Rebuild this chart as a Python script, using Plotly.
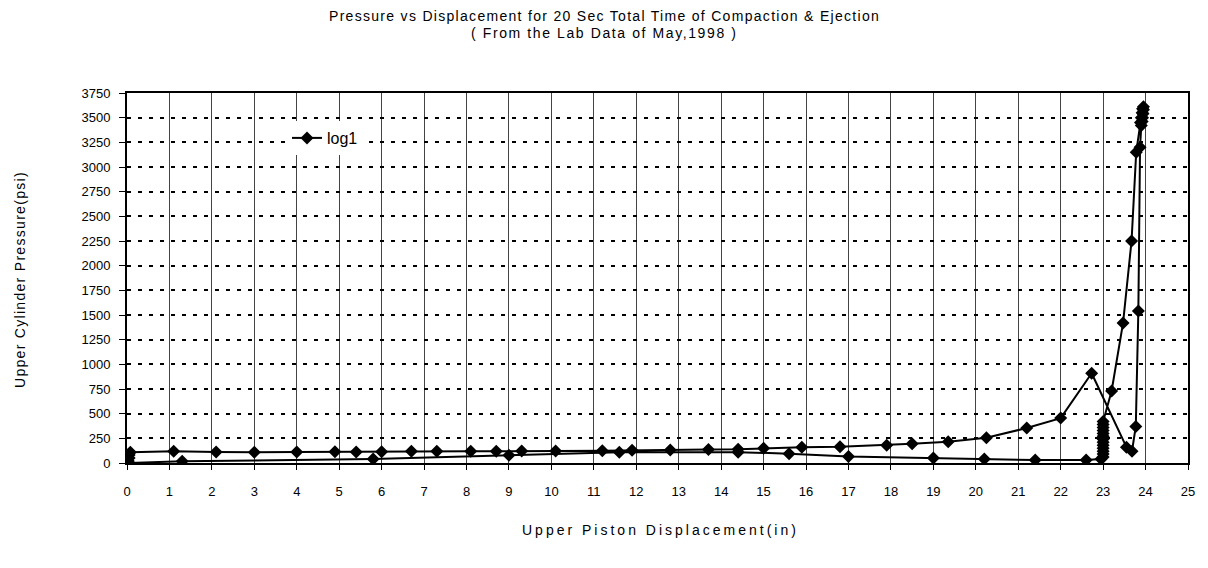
import plotly.graph_objects as go

# Displacement (in) and pressure (psi), in recorded order
displacement = [0.03, 0.03, 0.05, 0.05, 0.08,
                1.1, 2.1, 3.0, 4.0, 4.9, 5.4, 6.0, 6.7, 7.3, 8.1, 8.7, 9.3, 10.1, 11.2, 11.9,
                12.8, 13.7, 14.4, 15.0, 15.9, 16.8, 17.9, 18.5, 19.35, 20.25, 21.2, 22.0, 22.73,
                23.55, 23.68, 23.77, 23.83, 23.87, 23.9, 23.92, 23.93, 23.94, 23.95, 23.95,
                23.93, 23.92, 23.9, 23.88, 23.78, 23.67, 23.47, 23.2,
                23.0, 23.0, 23.0, 23.0, 23.0, 23.0, 23.0, 23.0, 23.0, 23.0, 23.0, 23.0, 23.0,
                22.95, 22.6, 21.4, 20.2, 19.0, 17.0, 15.6, 14.4, 11.6, 9.0, 5.8, 1.3, 0.05]
pressure = [0, 20, 50, 80, 110,
            118, 112, 108, 112, 115, 112, 115, 118, 120, 120, 118, 122, 122, 125, 130,
            132, 138, 140, 150, 160, 165, 180, 195, 215, 255, 355, 455, 910,
            160, 120, 370, 1540, 3200, 3420, 3460, 3500, 3540, 3580, 3610,
            3590, 3550, 3500, 3450, 3150, 2250, 1420, 730,
            420, 390, 360, 330, 300, 270, 240, 210, 180, 150, 120, 90, 60,
            40, 30, 30, 40, 50, 65, 95, 110, 108, 78, 40, 18, 0]

x_ticks = list(range(0, 26))
y_ticks = list(range(0, 3751, 250))

title_line1 = "Pressure vs Displacement for 20 Sec Total Time of Compaction & Ejection"
title_line2 = "( From the Lab Data of May,1998 )"
x_title = "Upper Piston Displacement(in)"
y_title = "Upper Cylinder Pressure(psi)"

FONT = "Liberation Sans, Arial, sans-serif"

# page has an 8px body margin; plot area in page px: x 127..1188, y 93..463
W, H = 1208, 568
L, R, T, B = 119, 28, 85, 113
PW, PH = W - L - R, H - T - B


def px_x(page_x):
    return (page_x - 8 - L) / PW


def px_y(page_y):
    return 1 - (page_y - 8 - T) / PH


def spaced(text, sp):
    return f'<span style="letter-spacing:{sp}px">{text}</span>'


fig = go.Figure()
fig.add_trace(go.Scatter(
    x=displacement, y=pressure, mode="lines+markers", name="log1",
    line=dict(color="black", width=2),
    marker=dict(symbol="diamond", size=10, color="black"),
))

fig.update_layout(
    width=W, height=H,
    margin=dict(l=L, r=R, t=T, b=B),
    paper_bgcolor="white", plot_bgcolor="white",
    font=dict(family=FONT, size=12, color="black"),
    showlegend=True,
    legend=dict(x=px_x(287), y=px_y(121), xanchor="left", yanchor="top",
                bgcolor="white", borderwidth=0, font=dict(size=16)),
    annotations=[
        dict(text=spaced(title_line1, 1.3), xref="paper", yref="paper",
             x=px_x(604), y=px_y(16), xanchor="center", yanchor="middle",
             showarrow=False, font=dict(size=14)),
        dict(text=spaced(title_line2, 1.6), xref="paper", yref="paper",
             x=px_x(604), y=px_y(33), xanchor="center", yanchor="middle",
             showarrow=False, font=dict(size=14)),
        dict(text=spaced(x_title, 3), xref="paper", yref="paper",
             x=px_x(660), y=px_y(530), xanchor="center", yanchor="middle",
             showarrow=False, font=dict(size=14)),
        dict(text=spaced(y_title, 1.3), textangle=-90, xref="paper", yref="paper",
             x=px_x(20), y=px_y(280), xanchor="center", yanchor="middle",
             showarrow=False, font=dict(size=14)),
    ],
)

fig.update_xaxes(
    range=[0, 25], tickvals=x_ticks, ticktext=[str(v) for v in x_ticks],
    showgrid=True, gridcolor="#444", gridwidth=1,
    showline=True, linecolor="black", linewidth=2, mirror=True,
    ticks="outside", ticklen=5, tickcolor="black",
    ticklabelstandoff=10, zeroline=False, tickfont=dict(size=13),
)
fig.update_yaxes(
    range=[0, 3750], tickvals=y_ticks, ticktext=[str(v) for v in y_ticks],
    showgrid=True, gridcolor="black", gridwidth=1.5, griddash="4px,7px",
    showline=True, linecolor="black", linewidth=2, mirror=True,
    ticks="outside", ticklen=6, tickcolor="black",
    ticklabelstandoff=6, zeroline=False, tickfont=dict(size=13),
)

fig.write_html("out.html")
